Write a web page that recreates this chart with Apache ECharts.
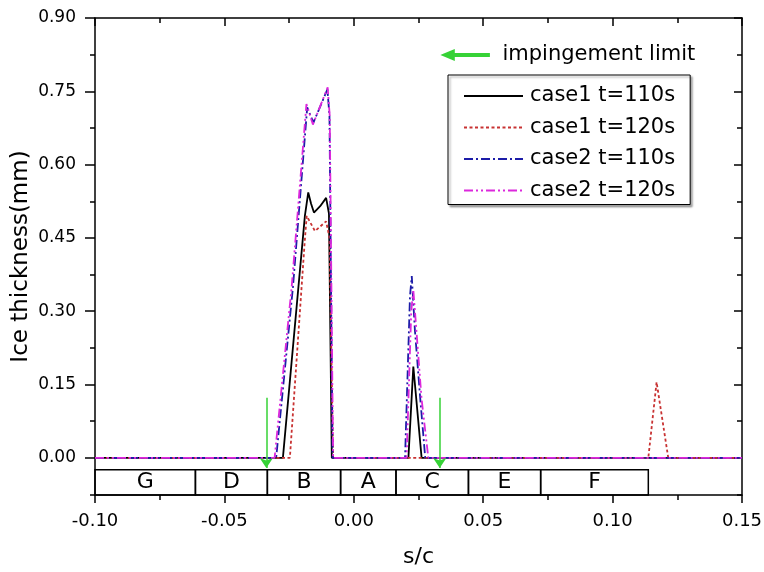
<!DOCTYPE html>
<html><head><meta charset="utf-8">
<script src="https://cdn.jsdelivr.net/npm/echarts@6/dist/echarts.min.js"></script>
<style>html,body{margin:0;padding:0;background:#fff}#c{width:764px;height:572px}</style>
</head><body><div id="c"></div>
<script>
// ---- data ----
const seriesNames = ['case1 t=110s', 'case1 t=120s', 'case2 t=110s', 'case2 t=120s'];
const case1_110 = [[-0.1,0],[-0.0274,0],[-0.0189,0.495],[-0.0176,0.543],[-0.0165,0.52],[-0.0154,0.502],[-0.0130,0.515],[-0.0107,0.532],[-0.0096,0.50],[-0.0085,0],[0.0211,0],[0.0230,0.187],[0.0262,0],[0.15,0]];
const case1_120 = [[-0.1,0],[-0.0247,0],[-0.0190,0.44],[-0.0182,0.495],[-0.0150,0.464],[-0.0107,0.484],[-0.0094,0.45],[-0.0080,0],[0.1138,0],[0.1170,0.155],[0.1215,0],[0.15,0]];
const case2_110 = [[-0.1,0],[-0.0300,0],[-0.0235,0.35],[-0.0180,0.717],[-0.0156,0.686],[-0.0102,0.754],[-0.0094,0.70],[-0.0082,0],[0.0198,0],[0.0217,0.33],[0.0224,0.372],[0.0236,0.262],[0.0256,0.126],[0.0276,0],[0.15,0]];
const case2_120 = [[-0.1,0],[-0.0306,0],[-0.0240,0.35],[-0.0183,0.724],[-0.0158,0.682],[-0.0101,0.758],[-0.0093,0.70],[-0.0080,0],[0.0204,0],[0.0222,0.30],[0.0230,0.344],[0.0262,0.12],[0.0288,0],[0.15,0]];
const xTickLabelsMin = -0.10, xTickLabelsMax = 0.15, xTickStep = 0.05;
const yMajorTicks = [0, 0.15, 0.30, 0.45, 0.60, 0.75, 0.90];
const yMinorTicks = [-0.075, 0.075, 0.225, 0.375, 0.525, 0.675, 0.825];
const yMin = -0.076, yMax = 0.90;
const regionNames = ['G', 'D', 'B', 'A', 'C', 'E', 'F'];
const regionEdges = [-0.10, -0.0612, -0.0334, -0.0051, 0.0163, 0.0443, 0.0722, 0.1138];
const regionTop = -0.0245;
const limitName = 'impingement limit';
const limitX = [-0.0338, 0.0332];
const limitTop = 0.123, limitTip = -0.021;

// ---- chart ----
const FONT = 'DejaVu Sans';
const AX = {color: '#000', width: 1.5};
const chart = echarts.init(document.getElementById('c'), null, {renderer: 'canvas'});
const colors = ['#000000', '#c83232', '#1c1ca8', '#dc28dc'];
const dashes = ['solid', [3, 2.5], [9, 3, 2, 3], [9, 3, 2, 3, 2, 3]];
const datas = [case1_110, case1_120, case2_110, case2_120];

const lineSeries = seriesNames.map((n, i) => ({
  name: n, type: 'line', data: datas[i], showSymbol: false, symbol: 'none',
  xAxisIndex: 0, yAxisIndex: 0, z: 3 + i,
  itemStyle: {color: colors[i]},
  lineStyle: {color: colors[i], width: 1.8, type: dashes[i]}
}));

const areas = regionNames.map((nm, i) => [
  {name: nm, xAxis: regionEdges[i], yAxis: yMin},
  {xAxis: regionEdges[i + 1], yAxis: regionTop}
]);

const option = {
  animation: false,
  textStyle: {fontFamily: FONT},
  grid: {left: 95, right: 22, top: 18, bottom: 77, containLabel: false, outerBoundsMode: 'none'},
  legend: [
    {
      data: seriesNames, orient: 'vertical', left: 448, top: 75,
      padding: [10, 15, 3, 15], itemGap: 9.5, itemWidth: 59, itemHeight: 14,
      borderColor: '#000', borderWidth: 1, backgroundColor: '#fff',
      shadowColor: 'rgba(0,0,0,0.35)', shadowOffsetX: 2, shadowOffsetY: 2, shadowBlur: 2,
      itemStyle: {opacity: 0},
      textStyle: {fontFamily: FONT, fontSize: 21, color: '#000', lineHeight: 22, padding: [0, 0, 0, 2]},
      selectedMode: false
    },
    {
      data: [{name: limitName, icon: 'path://M0,5L12,0L12,4L51,4L51,6L12,6L12,10Z'}],
      left: 442, top: 43, padding: 0, itemWidth: 51, itemHeight: 9,
      textStyle: {fontFamily: FONT, fontSize: 21, color: '#000', lineHeight: 24, padding: [0, 0, 0, 6]},
      selectedMode: false
    }
  ],
  xAxis: [
    {
      type: 'value', min: xTickLabelsMin, max: xTickLabelsMax, interval: xTickStep, position: 'bottom',
      axisLine: {onZero: false, lineStyle: AX},
      axisTick: {length: 8, lineStyle: AX},
      minorTick: {show: true, splitNumber: 2, length: 5, lineStyle: AX},
      axisLabel: {formatter: v => v.toFixed(2), fontSize: 18, color: '#000', margin: 17, fontFamily: FONT},
      splitLine: {show: false}, minorSplitLine: {show: false},
      name: 's/c', nameLocation: 'middle', nameGap: 51, nameMoveOverlap: false,
      nameTextStyle: {fontSize: 22, color: '#000', fontFamily: FONT}
    },
    {
      type: 'value', min: xTickLabelsMin, max: xTickLabelsMax, interval: xTickStep, position: 'top',
      axisLine: {onZero: false, lineStyle: AX},
      axisTick: {inside: true, length: 8, lineStyle: AX},
      minorTick: {show: true, splitNumber: 2, length: 5, lineStyle: AX},
      axisLabel: {show: false}, splitLine: {show: false}
    }
  ],
  yAxis: [
    {
      type: 'value', min: yMin, max: yMax, position: 'left',
      axisLine: {onZero: false, lineStyle: AX},
      axisTick: {customValues: yMajorTicks, length: 10, lineStyle: AX},
      axisLabel: {customValues: yMajorTicks, formatter: v => v.toFixed(2), fontSize: 17, color: '#000', margin: 19, fontFamily: FONT},
      splitLine: {show: false},
      name: 'Ice thickness(mm)', nameLocation: 'middle', nameGap: 62, nameMoveOverlap: false,
      nameTextStyle: {fontSize: 23, color: '#000', fontFamily: FONT}
    },
    {
      type: 'value', min: yMin, max: yMax, position: 'left',
      axisLine: {show: false, onZero: false},
      axisTick: {customValues: yMinorTicks, length: 5, lineStyle: AX},
      axisLabel: {show: false}, splitLine: {show: false}
    },
    {
      type: 'value', min: yMin, max: yMax, position: 'right',
      axisLine: {onZero: false, lineStyle: AX},
      axisTick: {inside: true, customValues: yMajorTicks, length: 8, lineStyle: AX},
      axisLabel: {show: false}, splitLine: {show: false}
    },
    {
      type: 'value', min: yMin, max: yMax, position: 'right',
      axisLine: {show: false, onZero: false},
      axisTick: {inside: true, customValues: yMinorTicks, length: 5, lineStyle: AX},
      axisLabel: {show: false}, splitLine: {show: false}
    }
  ],
  series: [
    {
      name: 'regions', type: 'line', data: [], xAxisIndex: 0, yAxisIndex: 0, silent: true,
      markArea: {
        silent: true,
        itemStyle: {color: 'rgba(0,0,0,0)', borderColor: '#000', borderWidth: 1.5},
        label: {show: true, position: 'inside', fontSize: 22, color: '#000', fontFamily: FONT},
        data: areas
      }
    },
    ...lineSeries,
    {
      name: limitName, type: 'lines', coordinateSystem: 'cartesian2d', xAxisIndex: 0, yAxisIndex: 0,
      symbol: ['none', 'arrow'], symbolSize: 10, z: 10,
      itemStyle: {color: '#36d236'},
      lineStyle: {color: '#36d236', width: 1.5, opacity: 1},
      data: limitX.map(x => ({coords: [[x, limitTop], [x, limitTip]]}))
    }
  ]
};
chart.setOption(option);
</script></body></html>
